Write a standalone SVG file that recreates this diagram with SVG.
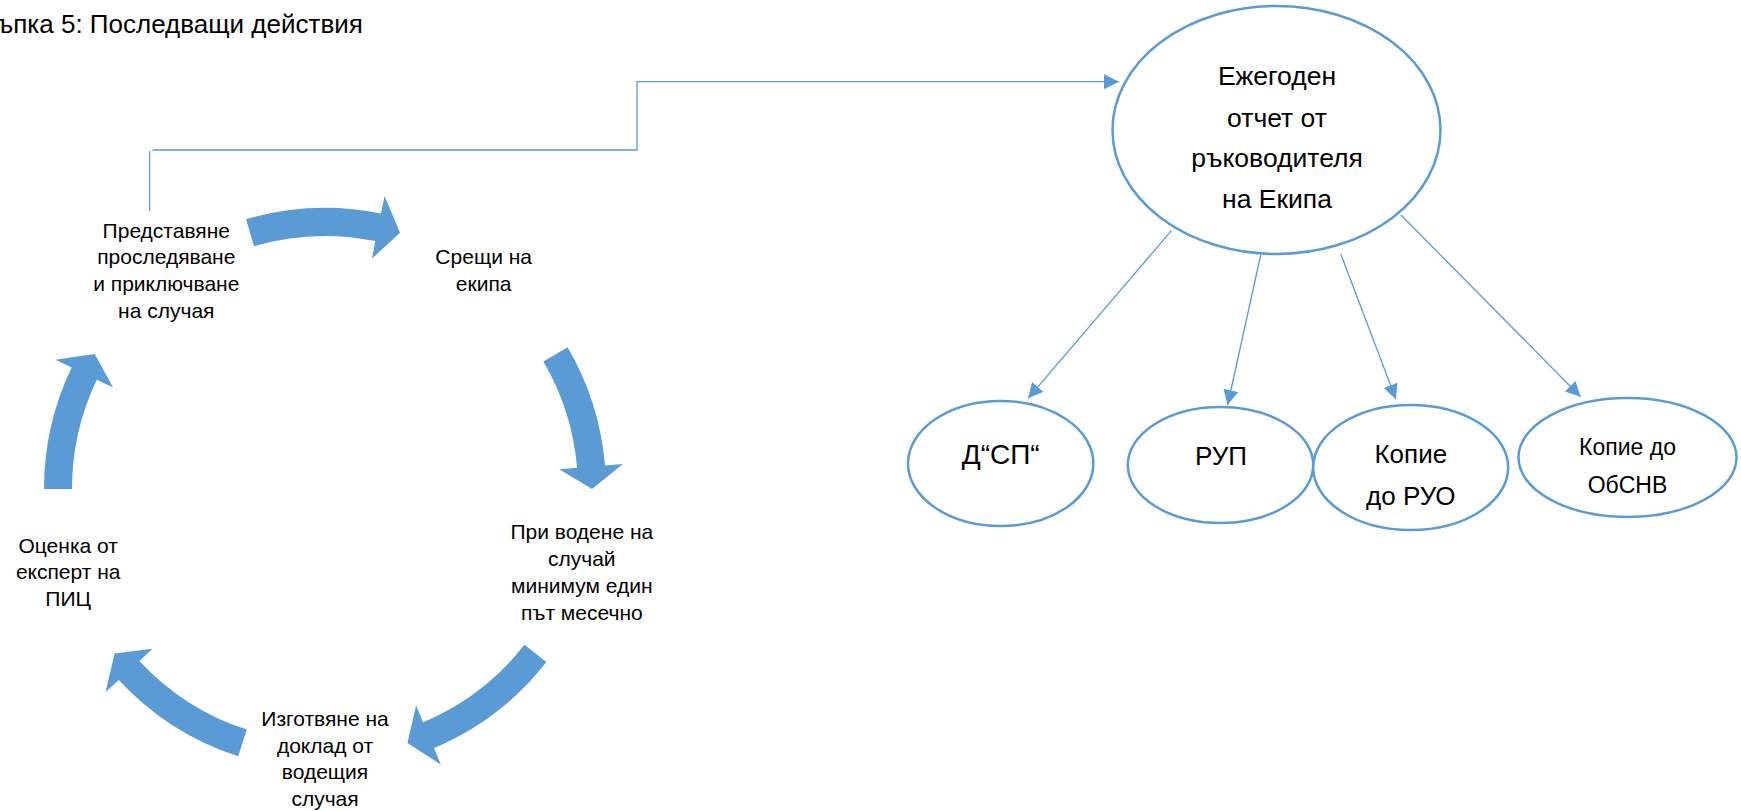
<svg xmlns="http://www.w3.org/2000/svg" width="1741" height="811" viewBox="0 0 1741 811">
<style>
text{font-family:"Liberation Sans",Arial,sans-serif;fill:#000}
.n{font-size:21px;text-anchor:middle}
.cy{fill:#5B9BD5}
.el{fill:#fff;stroke:#5B9BD5;stroke-width:2.5}
.c{fill:none;stroke:#5B9BD5;stroke-width:1.3}
.big{font-size:26.5px;text-anchor:middle}
.sm{font-size:26px;text-anchor:middle}
.sm4{font-size:23px;text-anchor:middle}
.dsp{font-size:28px;text-anchor:middle}
</style>
<defs>
<marker id="ah" markerUnits="userSpaceOnUse" markerWidth="15" markerHeight="15" refX="14" refY="7" orient="auto" viewBox="0 0 14 14">
<path d="M0,0 L14,7 L0,14 z" fill="#5B9BD5"/>
</marker>
</defs>
<rect width="1741" height="811" fill="#fff"/>
<text id="title" x="-3" y="33" font-size="26">ъпка 5: Последващи действия</text>

<g id="cycle-arrows">
<path class="cy" d="M246.1,219.3 A281,281 0 0 1 381.0,213.6 L384.6,196.0 L400.0,232.7 L371.9,258.7 L375.4,241.1 A253,253 0 0 0 254.0,246.2 Z"/>
<path class="cy" d="M567.6,347.2 A281,281 0 0 1 605.0,465.5 L623.0,464.0 L592.0,489.0 L559.2,469.3 L577.1,467.8 A253,253 0 0 0 543.4,361.4 Z"/>
<path class="cy" d="M546.4,662.0 A281,281 0 0 1 433.9,748.1 L440.9,764.6 L407.5,742.9 L416.1,705.6 L423.0,722.2 A253,253 0 0 0 524.4,644.8 Z"/>
<path class="cy" d="M238.2,756.3 A281,281 0 0 1 118.8,679.9 L105.6,692.1 L114.6,653.4 L152.6,648.7 L139.4,660.9 A253,253 0 0 0 246.8,729.6 Z"/>
<path class="cy" d="M44,489 A281,281 0 0 1 71.6,367.6 L55.4,359.8 L94.7,353.9 L113.1,387.5 L96.8,379.7 A253,253 0 0 0 72,489 Z"/>
</g>

<g id="node-predstavyane">
<text class="n" x="166.3" y="237.6">Представяне</text>
<text class="n" x="166.3" y="264.3">проследяване</text>
<text class="n" x="166.3" y="291">и приключване</text>
<text class="n" x="166.3" y="317.7">на случая</text>
</g>
<g id="node-sreshti">
<text class="n" x="483.7" y="264.3">Срещи на</text>
<text class="n" x="483.7" y="291">екипа</text>
</g>
<g id="node-vodene">
<text class="n" x="581.8" y="539.4">При водене на</text>
<text class="n" x="581.8" y="566.1">случай</text>
<text class="n" x="581.8" y="592.8">минимум един</text>
<text class="n" x="581.8" y="619.5">път месечно</text>
</g>
<g id="node-izgotvyane">
<text class="n" x="325" y="726">Изготвяне на</text>
<text class="n" x="325" y="752.7">доклад от</text>
<text class="n" x="325" y="779.4">водещия</text>
<text class="n" x="325" y="806.1">случая</text>
</g>
<g id="node-otsenka">
<text class="n" x="68.2" y="552.7">Оценка от</text>
<text class="n" x="68.2" y="579.4">експерт на</text>
<text class="n" x="68.2" y="606.1">ПИЦ</text>
</g>

<g id="connectors">
<path class="c" d="M149.6,211 V151"/>
<path class="c" d="M152.5,150 H637 V81.7 H1119" marker-end="url(#ah)"/>
<path class="c" d="M1171.4,230.7 L1028,398.3" marker-end="url(#ah)"/>
<path class="c" d="M1260.7,255 L1227.6,405" marker-end="url(#ah)"/>
<path class="c" d="M1340.8,254 L1395.9,399.3" marker-end="url(#ah)"/>
<path class="c" d="M1401,215 L1580.6,396.7" marker-end="url(#ah)"/>
</g>

<g id="node-otchet">
<ellipse class="el" cx="1276.5" cy="130" rx="164" ry="124"/>
<text class="big" x="1277" y="85">Ежегоден</text>
<text class="big" x="1277" y="126.7">отчет от</text>
<text class="big" x="1277" y="166.7">ръководителя</text>
<text class="big" x="1277" y="208">на Екипа</text>
</g>
<g id="node-dsp">
<ellipse class="el" cx="1000.7" cy="463.5" rx="92.7" ry="62.5"/>
<text class="dsp" x="1000.7" y="464">Д“СП“</text>
</g>
<g id="node-rup">
<ellipse class="el" cx="1220.5" cy="465" rx="92.7" ry="58"/>
<text class="sm" x="1221" y="465">РУП</text>
</g>
<g id="node-ruo">
<ellipse class="el" cx="1410.7" cy="467.5" rx="97.5" ry="62.5"/>
<text class="sm" x="1410.8" y="463">Копие</text>
<text class="sm" x="1410.8" y="505">до РУО</text>
</g>
<g id="node-obsnv">
<ellipse class="el" cx="1627.5" cy="457.5" rx="109" ry="59.5"/>
<text class="sm4" x="1627.5" y="455">Копие до</text>
<text class="sm4" x="1627.5" y="493">ОбСНВ</text>
</g>
</svg>
